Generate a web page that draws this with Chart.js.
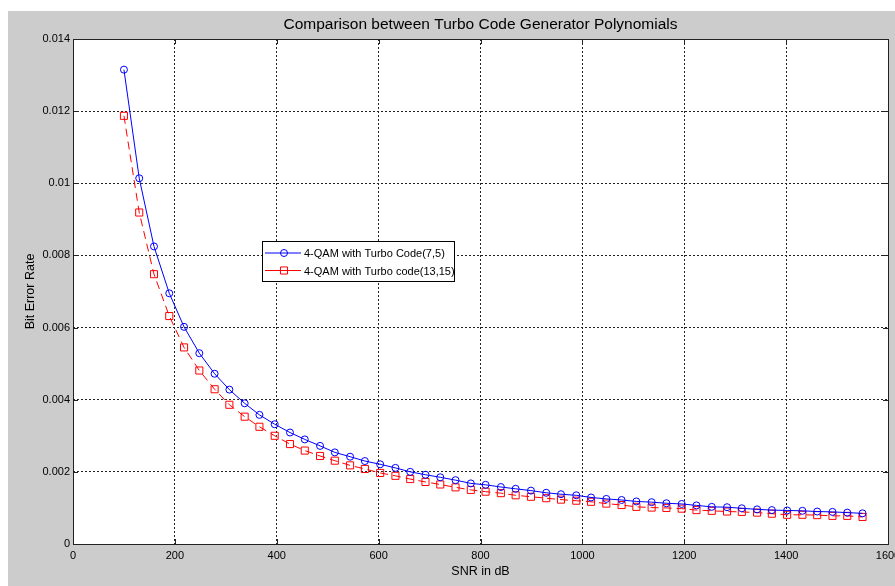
<!DOCTYPE html>
<html>
<head>
<meta charset="utf-8">
<title>Comparison between Turbo Code Generator Polynomials</title>
<script src="https://cdn.jsdelivr.net/npm/chart.js@4.4.1/dist/chart.umd.min.js"></script>
<style>
  html, body { margin: 0; padding: 0; background: #fff; }
  canvas { display: block; }
</style>
</head>
<body>
<canvas id="berChart" width="895" height="586"></canvas>
<script>
// SNR points (x axis) and BER
const snrValues = [100, 130, 159, 189, 218, 248, 278, 307, 337, 366,
                   396, 426, 455, 485, 514, 544, 573, 603, 633, 662,
                   692, 721, 751, 781, 810, 840, 869, 899, 929, 958,
                   988, 1017, 1047, 1077, 1106, 1136, 1165, 1195, 1224, 1254,
                   1284, 1313, 1343, 1372, 1402, 1432, 1461, 1491, 1520, 1550];

const berCode75 = [0.01315, 0.01014, 0.00825, 0.00695, 0.00602, 0.00529, 0.00472, 0.00428, 0.00390, 0.00358,
                   0.00332, 0.00309, 0.00290, 0.00272, 0.00254, 0.00242, 0.00230, 0.00221, 0.00211, 0.00200,
                   0.00192, 0.00185, 0.00177, 0.00168, 0.00164, 0.00158, 0.00153, 0.00148, 0.00142, 0.00138,
                   0.00135, 0.00129, 0.00125, 0.00122, 0.00118, 0.00116, 0.00113, 0.00111, 0.00107, 0.00103,
                   0.00102, 0.00099, 0.00096, 0.00094, 0.00093, 0.00092, 0.00090, 0.00089, 0.00087, 0.00085];

const berCode1315 = [0.01187, 0.00919, 0.00748, 0.00632, 0.00545, 0.00481, 0.00429, 0.00386, 0.00353, 0.00325,
                     0.00300, 0.00277, 0.00259, 0.00244, 0.00231, 0.00218, 0.00208, 0.00197, 0.00189, 0.00180,
                     0.00172, 0.00165, 0.00157, 0.00150, 0.00145, 0.00141, 0.00135, 0.00131, 0.00127, 0.00123,
                     0.00120, 0.00117, 0.00112, 0.00108, 0.00103, 0.00101, 0.00100, 0.00098, 0.00094, 0.00092,
                     0.00090, 0.00089, 0.00087, 0.00084, 0.00081, 0.00081, 0.00080, 0.00078, 0.00078, 0.00075];

const seriesLabels = ["4-QAM with Turbo Code(7,5)", "4-QAM with Turbo code(13,15)"];
const xTickLabels = ["0", "200", "400", "600", "800", "1000", "1200", "1400", "1600"];
const yTickLabels = ["0", "0.002", "0.004", "0.006", "0.008", "0.01", "0.012", "0.014"];
const chartTitle = "Comparison between Turbo Code Generator Polynomials";

const FONT = "'Liberation Sans', Arial, sans-serif";

function toPoints(xs, ys) {
    return xs.map((x, i) => ({ x: x, y: ys[i] }));
}

// matlab-ish figure: grey frame, white axes, box and inward ticks
const figurePlugin = {
    id: "figure",
    beforeDraw(chart) {
        const ctx = chart.ctx;
        const a = chart.chartArea;
        ctx.save();
        ctx.fillStyle = "#ffffff";
        ctx.fillRect(0, 0, chart.width, chart.height);
        ctx.fillStyle = "#cccccc";
        ctx.fillRect(8, 11, chart.width - 8, chart.height - 11);
        ctx.fillStyle = "#ffffff";
        ctx.fillRect(a.left, a.top, a.right - a.left, a.bottom - a.top);
        ctx.restore();
    },
    afterDraw(chart) {
        const ctx = chart.ctx;
        const a = chart.chartArea;
        const xs = chart.scales.x;
        const ys = chart.scales.y;
        ctx.save();
        ctx.strokeStyle = "#222222";
        ctx.lineWidth = 1;
        ctx.beginPath();
        xs.ticks.forEach(t => {
            const px = Math.round(xs.getPixelForValue(t.value)) + 0.5;
            ctx.moveTo(px, a.bottom); ctx.lineTo(px, a.bottom - 5);
            ctx.moveTo(px, a.top); ctx.lineTo(px, a.top + 5);
        });
        ys.ticks.forEach(t => {
            const py = Math.round(ys.getPixelForValue(t.value)) + 0.5;
            ctx.moveTo(a.left, py); ctx.lineTo(a.left + 5, py);
            ctx.moveTo(a.right, py); ctx.lineTo(a.right - 5, py);
        });
        ctx.stroke();
        ctx.strokeRect(Math.round(a.left) + 0.5, Math.round(a.top) + 0.5,
                       Math.round(a.right - a.left), Math.round(a.bottom - a.top));

        // title
        ctx.fillStyle = "#000000";
        ctx.font = "15.5px " + FONT;
        ctx.textAlign = "center";
        ctx.textBaseline = "alphabetic";
        ctx.fillText(chartTitle, (a.left + a.right) / 2, 29);
        ctx.restore();
    }
};

// legend box sitting inside the axes
const insideLegend = {
    id: "insideLegend",
    afterDraw(chart) {
        const ctx = chart.ctx;
        const box = { x: 262, y: 241, w: 192, h: 40 };
        ctx.save();
        ctx.fillStyle = "#ffffff";
        ctx.fillRect(box.x, box.y, box.w, box.h);
        ctx.strokeStyle = "#000000";
        ctx.lineWidth = 1;
        ctx.strokeRect(box.x + 0.5, box.y + 0.5, box.w, box.h);
        ctx.font = "11px " + FONT;
        ctx.textBaseline = "middle";
        ctx.textAlign = "left";
        chart.data.datasets.forEach((ds, i) => {
            const y = box.y + 12 + i * 17.5;
            ctx.strokeStyle = ds.borderColor;
            ctx.lineWidth = 1;
            ctx.beginPath();
            ctx.moveTo(box.x + 3, y);
            ctx.lineTo(box.x + 39, y);
            ctx.stroke();
            ctx.fillStyle = "rgba(0,0,0,0)";
            Chart.helpers.drawPoint(ctx, {
                pointStyle: ds.pointStyle,
                radius: ds.pointRadius,
                rotation: 0,
                borderWidth: 1
            }, box.x + 22, y);
            ctx.fillStyle = "#000000";
            ctx.fillText(ds.label, box.x + 42, y + 1);
        });
        ctx.restore();
    }
};

new Chart(document.getElementById("berChart"), {
    type: "line",
    data: {
        datasets: [{
            label: seriesLabels[0],
            data: toPoints(snrValues, berCode75),
            borderColor: "#0000ff",
            borderWidth: 1,
            pointStyle: "circle",
            pointRadius: 3.5,
            pointBorderWidth: 1,
            pointBorderColor: "#0000ff",
            pointBackgroundColor: "rgba(0,0,0,0)",
            tension: 0
        }, {
            label: seriesLabels[1],
            data: toPoints(snrValues, berCode1315),
            borderColor: "#ff0000",
            borderWidth: 1,
            borderDash: [8, 5],
            pointStyle: "rect",
            pointRadius: 5,
            pointBorderWidth: 1,
            pointBorderColor: "#ff0000",
            pointBackgroundColor: "rgba(0,0,0,0)",
            tension: 0
        }]
    },
    options: {
        responsive: false,
        animation: false,
        layout: {
            padding: { left: 0, top: 39, right: 7, bottom: 0 }
        },
        plugins: {
            legend: { display: false },
            title: { display: false },
            tooltip: { enabled: false }
        },
        scales: {
            x: {
                type: "linear",
                min: 0,
                max: 1600,
                ticks: {
                    stepSize: 200,
                    padding: 5,
                    color: "#000000",
                    font: { family: FONT, size: 11 },
                    callback: (v) => xTickLabels[Math.round(v / 200)]
                },
                grid: { color: "#222222", lineWidth: 1, drawTicks: false },
                border: { display: false, dash: [2, 2] },
                title: {
                    display: true,
                    text: "SNR in dB",
                    color: "#000000",
                    font: { family: FONT, size: 12.5 },
                    padding: { top: 0, bottom: 6.5 }
                },
                afterFit(scale) {
                    scale.height = 42;
                    scale.paddingLeft = 0;
                    scale.paddingRight = 0;
                }
            },
            y: {
                min: 0,
                max: 0.014,
                ticks: {
                    stepSize: 0.002,
                    padding: 3,
                    color: "#000000",
                    font: { family: FONT, size: 11 },
                    callback: (v) => yTickLabels[Math.round(v / 0.002)]
                },
                grid: { color: "#222222", lineWidth: 1, drawTicks: false },
                border: { display: false, dash: [2, 2] },
                title: {
                    display: true,
                    text: "Bit Error Rate",
                    color: "#000000",
                    font: { family: FONT, size: 12.5 },
                    padding: { top: 23.5, bottom: 0 }
                },
                afterFit(scale) {
                    scale.width = 73;
                }
            }
        }
    },
    plugins: [figurePlugin, insideLegend]
});
</script>
</body>
</html>
